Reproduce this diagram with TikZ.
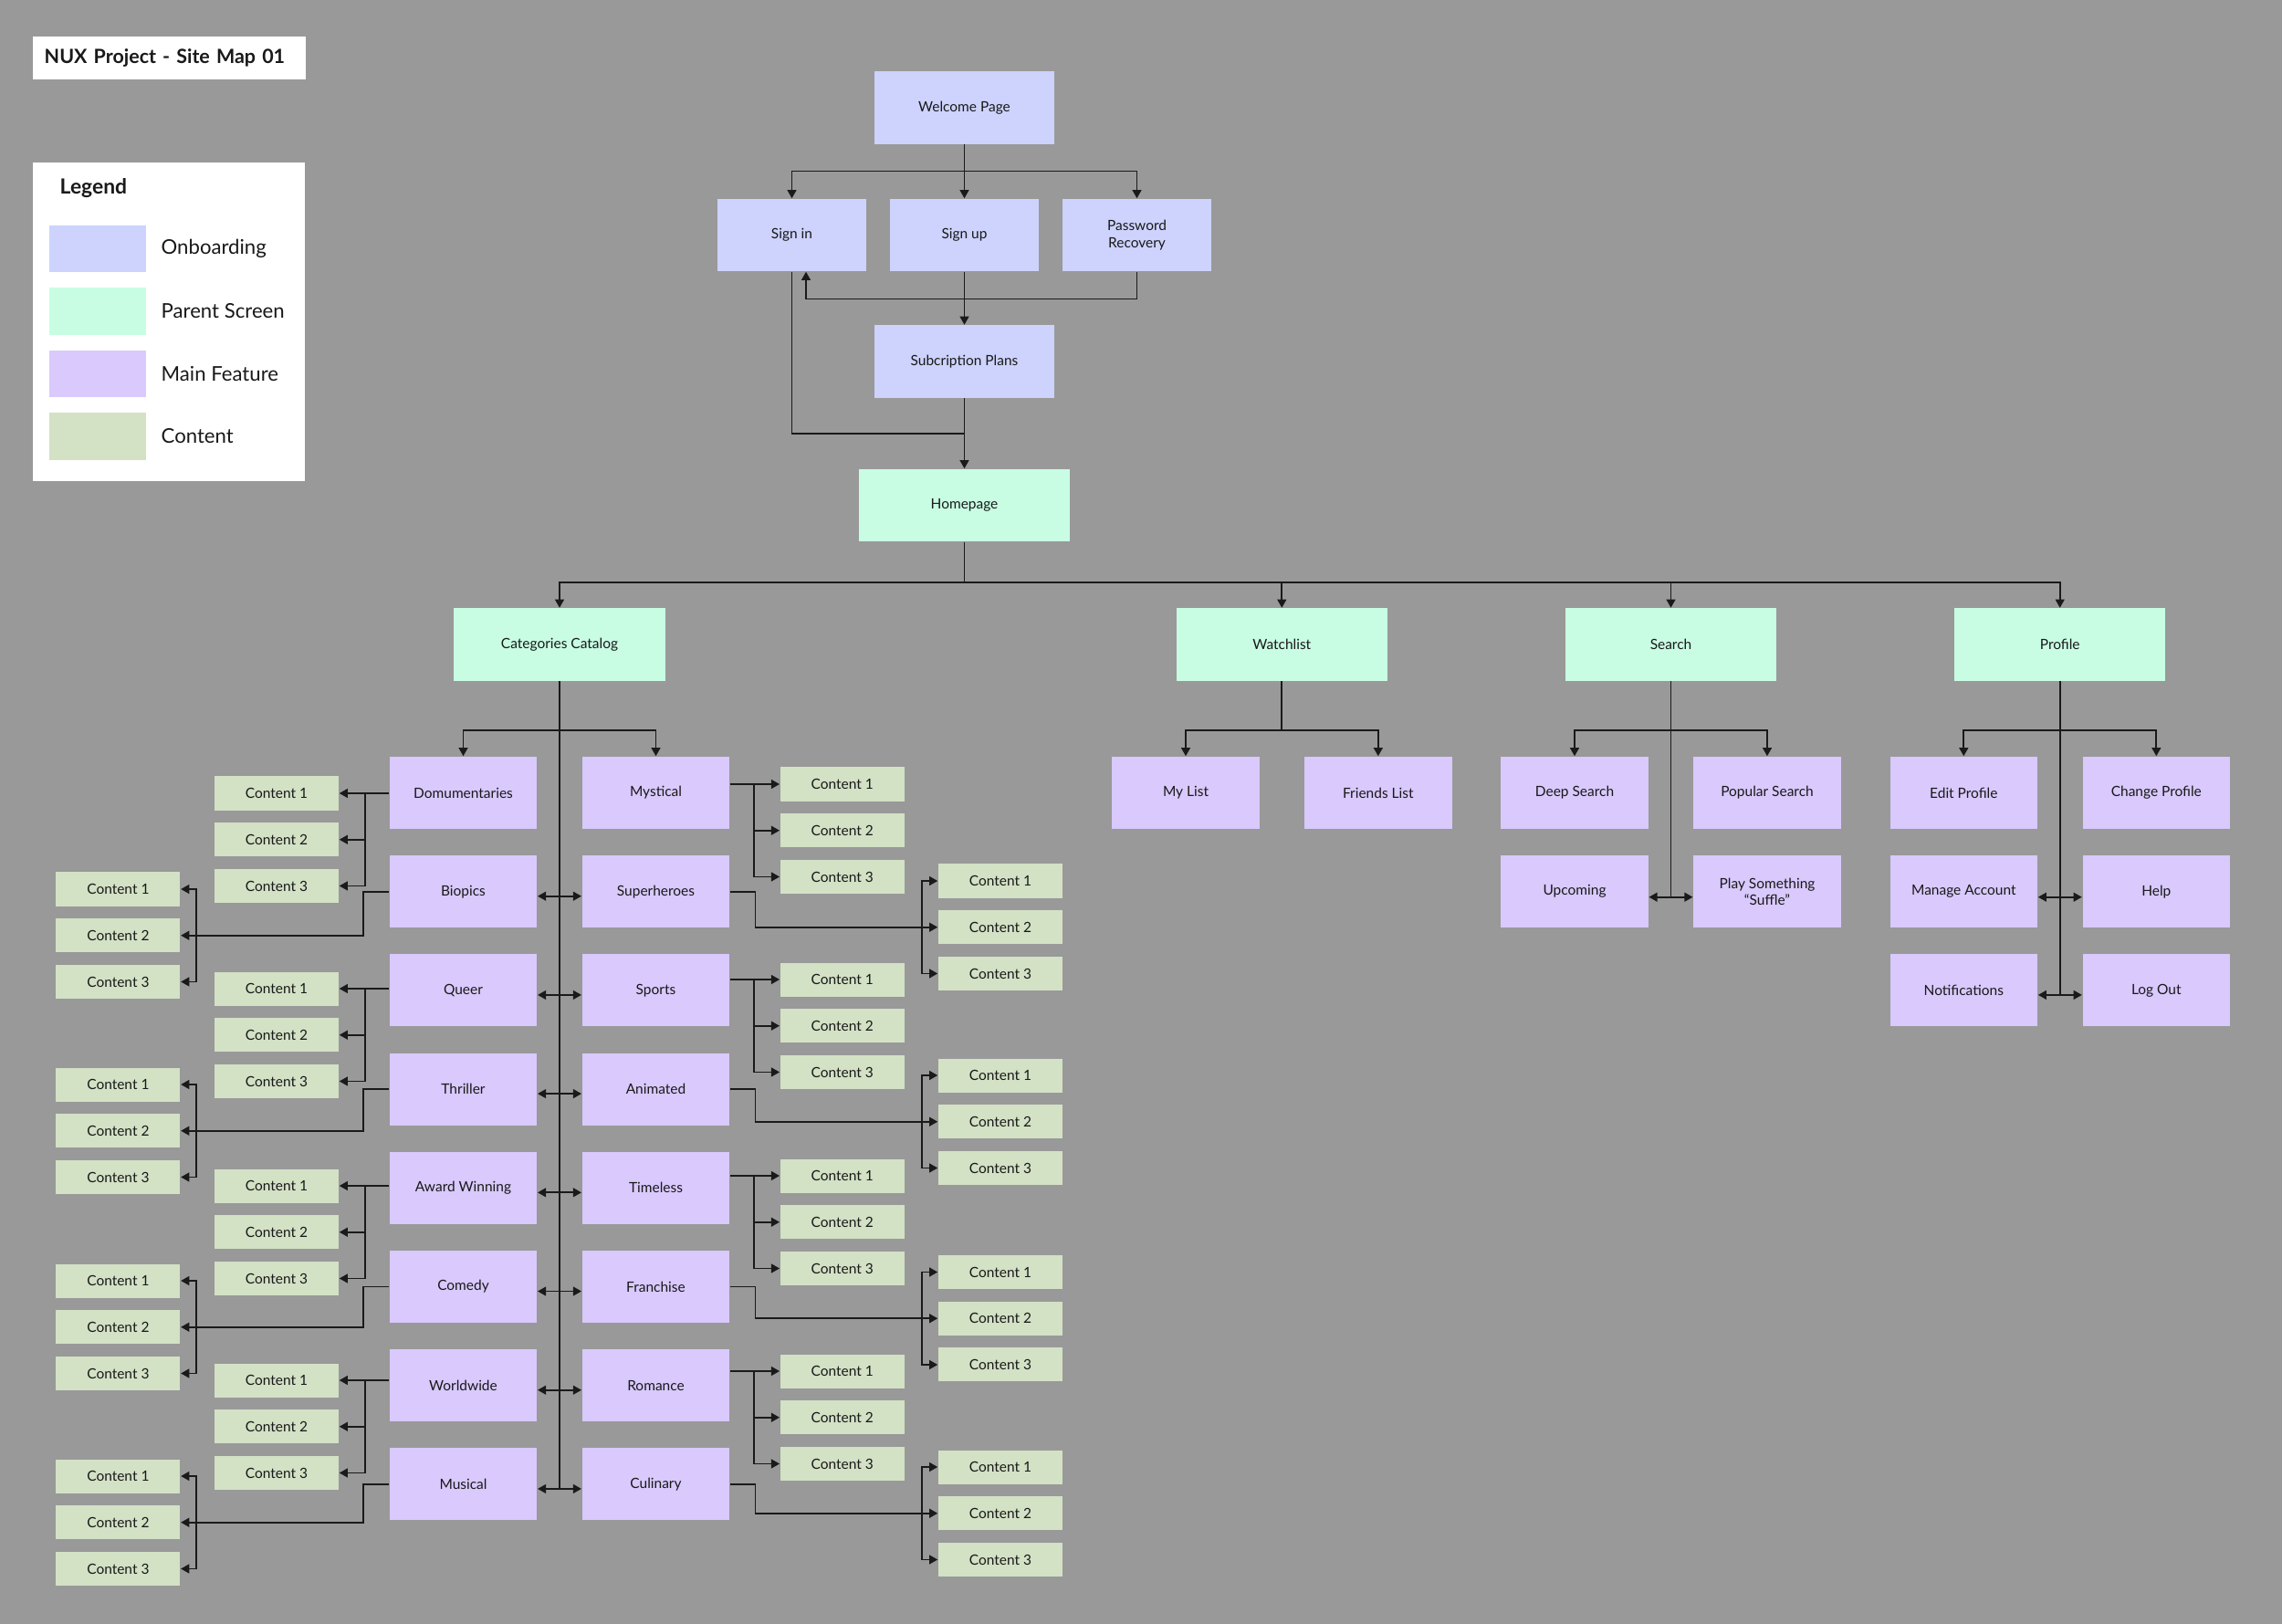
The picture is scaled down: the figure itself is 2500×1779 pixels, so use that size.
\documentclass[tikz,border=0pt]{standalone}
\usepackage{fontspec}
\setmainfont{Lato}
\usetikzlibrary{arrows.meta, positioning, calc}

\definecolor{bggray}{HTML}{999999}
\definecolor{onbfill}{HTML}{CDD3FC}
\definecolor{parfill}{HTML}{C8FDE4}
\definecolor{featfill}{HTML}{D9C9FC}
\definecolor{contfill}{HTML}{D3E1C5}
\definecolor{linecol}{HTML}{1A1A1A}

\begin{document}
\begin{tikzpicture}[
    x=0.01cm, y=-0.01cm,
    every node/.style={font=\fontsize{4.4}{5.3}\selectfont, inner sep=0pt, align=center, text=black!90},
    onboard/.style={rectangle, fill=onbfill, minimum width=1.96cm, minimum height=0.79cm},
    onboardsm/.style={onboard, minimum width=1.62cm},
    parent/.style={rectangle, fill=parfill, minimum width=2.31cm, minimum height=0.79cm},
    feature/.style={rectangle, fill=featfill, minimum width=1.615cm, minimum height=0.79cm},
    content/.style={rectangle, fill=contfill, minimum width=1.36cm, minimum height=0.37cm},
    line/.style={line width=0.5pt, draw=linecol},
    arrow/.style={line, -{Triangle[length=2.6pt, width=2.8pt]}},
    dblarrow/.style={line, {Triangle[length=2.6pt, width=2.8pt]}-{Triangle[length=2.6pt, width=2.8pt]}},
    legswatch/.style={rectangle, minimum width=1.06cm, minimum height=0.51cm},
    leglabel/.style={anchor=west, font=\fontsize{6.3}{7.5}\selectfont}
]

% --- Canvas ---
\fill[bggray] (0,0) rectangle (2500,1779);
\useasboundingbox (0,0) rectangle (2500,1779);

% --- Title & legend ---
\node[fill=white, anchor=west, minimum height=0.47cm, inner xsep=0.13cm, text width=2.73cm, align=left,
      font=\bfseries\fontsize{6.1}{7}\selectfont] (title) at (35,63.5) {NUX Project - Site Map 01};
\node[fill=white, minimum width=2.98cm, minimum height=3.49cm] (legend) at (185,352.5) {};
\node[anchor=west, font=\bfseries\fontsize{6.5}{7.5}\selectfont] (legtitle) at (65,206) {Legend};
\foreach \col/\lab [count=\i from 0] in {onbfill/Onboarding, parfill/Parent Screen, featfill/Main Feature, contfill/Content} {
    \node[legswatch, fill=\col] (sw\i) at (107,{272.5+68.5*\i}) {};
    \node[leglabel] (lab\i) at (176,{272.5+68.5*\i}) {\lab};
}

% --- Onboarding ---
\node[onboard] (welcome) at (1056.5,118) {Welcome Page};
\node[onboardsm] (signin) at (867.5,257.5) {Sign in};
\node[onboardsm] (signup) at (1056.5,257.5) {Sign up};
\node[onboardsm] (pwrec) at (1245.5,257.5) {Password\\Recovery};
\node[onboard] (subs) at (1056.5,396) {Subcription Plans};
\node[parent] (home) at (1056.5,553.5) {Homepage};

\coordinate (wbr) at (1056.5,187.5);
\draw[line] (welcome.south) -- (wbr);
\draw[arrow] (wbr) -| (signin.north);
\draw[arrow] (wbr) -- (signup.north);
\draw[arrow] (wbr) -| (pwrec.north);
\draw[arrow] (pwrec.south) -- ++(0,29.8) -| ([xshift=0.155cm]signin.south);
\draw[arrow] (signup.south) -- (subs.north);
\draw[arrow] (subs.south) -- (home.north);
\draw[line] (signin.south) |- ($(subs.south)!0.5!(home.north)$);

% --- Parent screens ---
\node[parent] (cat) at (613,706) {Categories Catalog};
\node[parent] (watch) at (1404.3,706) {Watchlist};
\node[parent] (search) at (1830.5,706) {Search};
\node[parent] (profile) at (2256.7,706) {Profile};

\coordinate (hbr) at (1056.5,638);
\draw[line] (home.south) -- (hbr);
\draw[arrow] (hbr) -| (cat.north);
\draw[arrow] (hbr) -| (profile.north);
\draw[arrow] (watch.north |- hbr) -- (watch.north);
\draw[arrow] (search.north |- hbr) -- (search.north);

% --- Categories: main features ---
\foreach \name/\lab [count=\r from 0] in {dom/Domumentaries, bio/Biopics, queer/Queer, thr/Thriller, award/Award Winning, com/Comedy, world/Worldwide, mus/Musical}
    \node[feature] (\name) at (507.5,{868.5+108.2*\r}) {\lab};
\foreach \name/\lab [count=\r from 0] in {myst/Mystical, sup/Superheroes, sport/Sports, anim/Animated, time/Timeless, fran/Franchise, rom/Romance, cul/Culinary}
    \node[feature] (\name) at (718.5,{868.5+108.2*\r}) {\lab};

\coordinate (cbr) at (613,800);
\draw[arrow] (cbr) -| (dom.north);
\draw[arrow] (cbr) -| (myst.north);
\draw[line] (cat.south) -- ([yshift=-0.05cm]cat.south |- mus.east);
\foreach \a/\b in {bio/sup, queer/sport, thr/anim, award/time, com/fran, world/rom, mus/cul}
    \draw[dblarrow] ([yshift=-0.05cm]\a.east) -- ([yshift=-0.05cm]\b.west);

% --- Categories: content (inner left) ---
\foreach \f/\y in {dom/869, queer/1083, award/1299, world/1512} {
    \node[content] (\f1) at (303,\y) {Content 1};
    \node[content, below=0.123cm of \f1] (\f2) {Content 2};
    \node[content, below=0.123cm of \f2] (\f3) {Content 3};
    \draw[arrow] (\f.west |- \f1.east) -- (\f1.east);
    \draw[arrow] ([xshift=0.28cm]\f1.east) |- (\f2.east);
    \draw[arrow] ([xshift=0.28cm]\f1.east) |- (\f3.east);
}
% --- Categories: content (outer left) ---
\foreach \f/\y in {bio/974, thr/1188, com/1403, mus/1617} {
    \node[content] (\f1) at (129.4,\y) {Content 1};
    \node[content, below=0.123cm of \f1] (\f2) {Content 2};
    \node[content, below=0.123cm of \f2] (\f3) {Content 3};
    \draw[arrow] (\f.west) -- ++(-28.3,0) |- (\f2.east);
    \draw[arrow] ([xshift=0.172cm]\f2.east) |- (\f1.east);
    \draw[arrow] ([xshift=0.172cm]\f2.east) |- (\f3.east);
}
% --- Categories: content (inner right) ---
\foreach \f/\y in {myst/859, sport/1073, time/1288, rom/1502} {
    \node[content] (\f1) at (922.8,\y) {Content 1};
    \node[content, below=0.123cm of \f1] (\f2) {Content 2};
    \node[content, below=0.123cm of \f2] (\f3) {Content 3};
    \draw[arrow] (\f.east |- \f1.west) -- (\f1.west);
    \draw[arrow] ([xshift=-0.279cm]\f1.west) |- (\f2.west);
    \draw[arrow] ([xshift=-0.279cm]\f1.west) |- (\f3.west);
}
% --- Categories: content (outer right) ---
\foreach \f/\y in {sup/965, anim/1178, fran/1393.5, cul/1607} {
    \node[content] (\f1) at (1096,\y) {Content 1};
    \node[content, below=0.123cm of \f1] (\f2) {Content 2};
    \node[content, below=0.123cm of \f2] (\f3) {Content 3};
    \draw[arrow] (\f.east) -- ++(27.6,0) |- (\f2.west);
    \draw[arrow] ([xshift=-0.174cm]\f2.west) |- (\f1.west);
    \draw[arrow] ([xshift=-0.174cm]\f2.west) |- (\f3.west);
}

% --- Watchlist ---
\node[feature] (mylist) at (1299,868.5) {My List};
\node[feature] (friends) at (1509.8,868.5) {Friends List};
\draw[line] (watch.south) -- (watch.south |- cbr);
\draw[arrow] (watch.south |- cbr) -| (mylist.north);
\draw[arrow] (watch.south |- cbr) -| (friends.north);

% --- Search ---
\node[feature] (deep) at (1725,868.5) {Deep Search};
\node[feature] (popular) at (1936,868.5) {Popular Search};
\node[feature] (upcoming) at (1725,976.7) {Upcoming};
\node[feature] (play) at (1936,976.7) {Play Something\\“Suffle”};
\draw[line] (search.south) -- ([yshift=-0.06cm]search.south |- upcoming.east);
\draw[arrow] (search.south |- cbr) -| (deep.north);
\draw[arrow] (search.south |- cbr) -| (popular.north);
\draw[dblarrow] ([yshift=-0.06cm]upcoming.east) -- ([yshift=-0.06cm]play.west);

% --- Profile ---
\node[feature] (edit) at (2151.3,868.5) {Edit Profile};
\node[feature] (change) at (2362.3,868.5) {Change Profile};
\node[feature] (manage) at (2151.3,976.7) {Manage Account};
\node[feature] (help) at (2362.3,976.7) {Help};
\node[feature] (notif) at (2151.3,1084.9) {Notifications};
\node[feature] (logout) at (2362.3,1084.9) {Log Out};
\draw[line] (profile.south) -- ([yshift=-0.05cm]profile.south |- notif.east);
\draw[arrow] (profile.south |- cbr) -| (edit.north);
\draw[arrow] (profile.south |- cbr) -| (change.north);
\draw[dblarrow] ([yshift=-0.06cm]manage.east) -- ([yshift=-0.06cm]help.west);
\draw[dblarrow] ([yshift=-0.05cm]notif.east) -- ([yshift=-0.05cm]logout.west);

\end{tikzpicture}
\end{document}
